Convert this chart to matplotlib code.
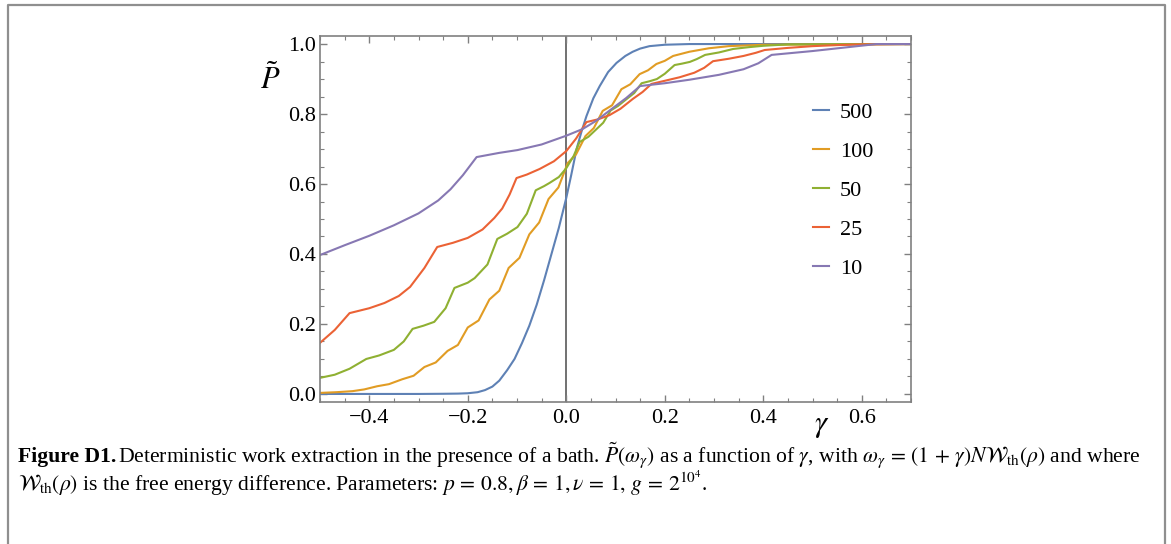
import matplotlib
matplotlib.use("Agg")
import matplotlib.pyplot as plt
from matplotlib.lines import Line2D

plt.rcParams['font.family'] = ['Liberation Serif', 'DejaVu Serif']
plt.rcParams['mathtext.fontset'] = 'stix'

# --- data (gamma, P~) ---
g500 = [-0.5, -0.3, -0.25, -0.22, -0.2, -0.18, -0.165, -0.15, -0.136, -0.12, -0.105, -0.09,
        -0.075, -0.06, -0.045, -0.03, -0.015, 0.0, 0.01, 0.021, 0.031, 0.041, 0.055, 0.068,
        0.085, 0.102, 0.12, 0.135, 0.15, 0.169, 0.2, 0.25, 0.7]
p500 = [0.0, 0.0, 0.0005, 0.001, 0.002, 0.005, 0.011, 0.021, 0.038, 0.068, 0.1, 0.145,
        0.195, 0.255, 0.325, 0.4, 0.475, 0.56, 0.625, 0.7, 0.75, 0.794, 0.845, 0.88,
        0.92, 0.946, 0.966, 0.978, 0.987, 0.994, 0.998, 1.0, 1.0]

g100 = [-0.5, -0.467, -0.434, -0.41, -0.384, -0.36, -0.333, -0.31, -0.288, -0.265, -0.241,
        -0.22, -0.2, -0.178, -0.156, -0.136, -0.117, -0.095, -0.075, -0.055, -0.036, -0.016,
        0.003, 0.02, 0.039, 0.056, 0.074, 0.093, 0.112, 0.13, 0.149, 0.166, 0.183, 0.2,
        0.217, 0.25, 0.29, 0.33, 0.4, 0.7]
p100 = [0.003, 0.005, 0.008, 0.013, 0.022, 0.028, 0.042, 0.052, 0.077, 0.09, 0.123,
        0.14, 0.19, 0.21, 0.27, 0.295, 0.36, 0.389, 0.456, 0.49, 0.557, 0.59,
        0.66, 0.685, 0.737, 0.76, 0.809, 0.825, 0.871, 0.885, 0.914, 0.925, 0.943, 0.952,
        0.966, 0.978, 0.988, 0.994, 0.998, 1.0]

g50 = [-0.5, -0.47, -0.44, -0.406, -0.38, -0.35, -0.33, -0.312, -0.29, -0.268, -0.245,
       -0.227, -0.2, -0.186, -0.16, -0.14, -0.12, -0.099, -0.08, -0.062, -0.045, -0.034,
       -0.015, 0.0, 0.015, 0.027, 0.045, 0.06, 0.075, 0.09, 0.105, 0.12, 0.138, 0.153,
       0.17, 0.184, 0.2, 0.22, 0.235, 0.251, 0.265, 0.282, 0.31, 0.339, 0.37, 0.4, 0.45, 0.7]
p50 = [0.046, 0.055, 0.072, 0.1, 0.11, 0.126, 0.15, 0.186, 0.195, 0.206, 0.245,
       0.303, 0.318, 0.331, 0.37, 0.443, 0.458, 0.477, 0.515, 0.582, 0.594, 0.603,
       0.62, 0.645, 0.68, 0.72, 0.735, 0.755, 0.775, 0.81, 0.823, 0.84, 0.86, 0.888,
       0.894, 0.9, 0.915, 0.94, 0.944, 0.949, 0.957, 0.969, 0.976, 0.986, 0.991, 0.995, 0.999, 1.0]

g25 = [-0.5, -0.47, -0.44, -0.4, -0.369, -0.34, -0.317, -0.288, -0.262, -0.23, -0.2,
       -0.17, -0.146, -0.13, -0.115, -0.101, -0.08, -0.054, -0.025, 0.0, 0.02, 0.041,
       0.065, 0.088, 0.11, 0.135, 0.155, 0.173, 0.2, 0.23, 0.26, 0.28, 0.298, 0.33, 0.36,
       0.385, 0.403, 0.45, 0.5, 0.55, 0.6, 0.7]
p25 = [0.146, 0.183, 0.231, 0.245, 0.26, 0.28, 0.306, 0.36, 0.42, 0.432, 0.446,
       0.47, 0.503, 0.53, 0.57, 0.617, 0.627, 0.643, 0.665, 0.694, 0.73, 0.777,
       0.785, 0.797, 0.815, 0.843, 0.863, 0.886, 0.895, 0.905, 0.918, 0.932, 0.951, 0.958, 0.966,
       0.975, 0.983, 0.989, 0.994, 0.997, 0.999, 1.0]

g10 = [-0.5, -0.45, -0.4, -0.35, -0.3, -0.26, -0.235, -0.21, -0.182, -0.136, -0.099, -0.05,
       0.0, 0.033, 0.06, 0.088, 0.122, 0.15, 0.2, 0.25, 0.31, 0.36, 0.39, 0.417, 0.5, 0.63, 0.7]
p10 = [0.397, 0.425, 0.452, 0.482, 0.516, 0.553, 0.585, 0.625, 0.677, 0.689, 0.697, 0.713,
       0.738, 0.757, 0.78, 0.81, 0.846, 0.88, 0.888, 0.898, 0.912, 0.928, 0.945, 0.969, 0.98, 1.0, 1.0]

labels = ["500", "100", "50", "25", "10"]
colors = ["#5E81B5", "#E19C24", "#8FB032", "#EB6235", "#8778B3"]
series = [(g500, p500), (g100, p100), (g50, p50), (g25, p25), (g10, p10)]

W, H = 1171, 544
fig = plt.figure(figsize=(W / 100, H / 100), dpi=100)

# outer frame of the figure box (bottom edge runs off the page)
frame_c = "#8f8f8f"
fig.add_artist(Line2D([8 / W, 8 / W, 1165 / W, 1165 / W], [-0.02, 1 - 5 / H, 1 - 5 / H, -0.02],
                      color=frame_c, lw=1.6, transform=fig.transFigure))

ax = fig.add_axes([320 / W, 1 - 402 / H, 591 / W, 366 / H])

for (g, p), lab, c in zip(series, labels, colors):
    ax.plot(g, p, color=c, lw=1.5, label=lab)

ax.axvline(0, color="#666666", lw=1.3, zorder=1)

ax.set_xlim(-0.5, 0.7)
ax.set_ylim(-0.023, 1.023)
ax.set_xticks([-0.4, -0.2, 0.0, 0.2, 0.4, 0.6])
ax.set_xticks([x / 20 for x in range(-10, 15)], minor=True)
ax.set_yticks([0.0, 0.2, 0.4, 0.6, 0.8, 1.0])
ax.set_yticks([y / 20 for y in range(0, 21)], minor=True)
ax.set_xticklabels(["\u22120.4", "\u22120.2", "0.0", "0.2", "0.4", "0.6"])
ax.set_yticklabels(["0.0", "0.2", "0.4", "0.6", "0.8", "1.0"])

for s in ax.spines.values():
    s.set_color("#808080")
    s.set_linewidth(1.2)
ax.tick_params(which="both", direction="in", top=True, right=True, colors="#808080",
               labelcolor="black", labelsize=16)
ax.tick_params(which="major", length=5, width=1)
ax.tick_params(which="minor", length=3, width=0.8)
ax.tick_params(axis="x", pad=5)
ax.tick_params(axis="y", pad=3)

fig.text(270 / W, 1 - 80 / H, r"$\tilde{P}$", fontsize=22, ha="center", va="center")
fig.text(822 / W, 1 - 426 / H, r"$\gamma$", fontsize=22, ha="center", va="center")

leg = ax.legend(loc="upper left", bbox_to_anchor=(0.801, 0.874), frameon=False,
                fontsize=16, handlelength=0.7, handletextpad=0.5, labelspacing=0.83)

# caption
cap_fs = 15.6
y1 = 1 - 462 / H
y2 = 1 - 491 / H
t1 = fig.text(18 / W, y1, "Figure D1.", fontsize=cap_fs, fontweight="bold", va="baseline")
fig.canvas.draw()
bb = t1.get_window_extent(fig.canvas.get_renderer())
fig.text(bb.x1 / W + 2 / W, y1,
         r"Deterministic work extraction in the presence of a bath. $\tilde{P}(\omega_\gamma)$ "
         r"as a function of $\gamma$, with $\omega_\gamma\,=\,(1\,+\,\gamma)N\mathcal{W}_{\rm th}(\rho)$ and where",
         fontsize=cap_fs, va="baseline")
fig.text(18 / W, y2,
         r"$\mathcal{W}_{\rm th}(\rho)$ is the free energy difference. Parameters: "
         r"$p\,=\,0.8, \beta\,=\,1, \nu\,=\,1,\, g\,=\,2^{10^4}$.",
         fontsize=cap_fs, va="baseline")

fig.savefig("out.png", dpi=100)
